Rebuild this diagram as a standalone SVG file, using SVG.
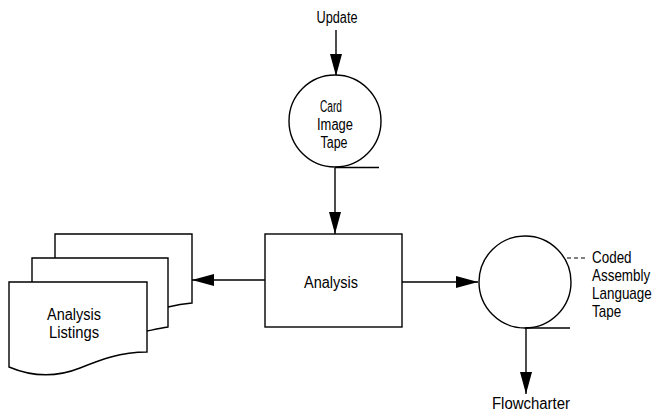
<svg xmlns="http://www.w3.org/2000/svg" width="654" height="417" viewBox="0 0 654 417">
<defs>
<style>
.s{fill:none;stroke:#000;stroke-width:1.4}
.f{fill:#fff;stroke:#000;stroke-width:1.4}
.t{font-family:"Liberation Sans",Arial,sans-serif;font-size:16px;fill:#000}
.d{stroke:#000;stroke-width:1.2;stroke-dasharray:4 3;fill:none}
</style>
<marker id="ah" viewBox="0 0 22 12" refX="22" refY="6" markerWidth="22" markerHeight="12" markerUnits="userSpaceOnUse" orient="auto">
<path d="M0,0 L22,6 L0,12 Z" fill="#000"/>
</marker>
</defs>
<rect width="654" height="417" fill="#fff"/>
<g id="connectors">
<line class="s" x1="336" y1="30" x2="336" y2="76" marker-end="url(#ah)"/>
<line class="s" x1="335" y1="168" x2="335" y2="234" marker-end="url(#ah)"/>
<line class="s" x1="265" y1="280" x2="192" y2="280" marker-end="url(#ah)"/>
<line class="s" x1="402" y1="282" x2="478" y2="282" marker-end="url(#ah)"/>
<line class="s" x1="526" y1="328" x2="526" y2="394" marker-end="url(#ah)"/>
</g>
<g id="update"><text class="t" x="337" y="23" text-anchor="middle" textLength="41" lengthAdjust="spacingAndGlyphs">Update</text></g>
<g id="card-image-tape">
<circle class="f" cx="335" cy="121" r="46"/>
<line class="s" x1="335" y1="167.5" x2="379" y2="167.5"/>
<text class="t" x="331" y="112" text-anchor="middle" textLength="22" lengthAdjust="spacingAndGlyphs">Card</text>
<text class="t" x="335" y="130" text-anchor="middle" textLength="36" lengthAdjust="spacingAndGlyphs">Image</text>
<text class="t" x="334" y="148" text-anchor="middle" textLength="27" lengthAdjust="spacingAndGlyphs">Tape</text>
</g>
<g id="analysis">
<rect class="f" x="265" y="234" width="137" height="93"/>
<text class="t" x="331" y="288" text-anchor="middle" textLength="54" lengthAdjust="spacingAndGlyphs">Analysis</text>
</g>
<g id="analysis-listings">
<path class="f" d="M55,307 L55,234 L192,234 L192,303 C180,304 172,306 168,307 Z"/>
<path class="f" d="M32,331 L32,258 L168,258 L168,327 C160,328 152,330 147,331 Z"/>
<path class="f" d="M9,367 L9,282 L147,282 L147,352 C120,352 100,360 80,368 C60,376 35,378 9,367 Z"/>
<text class="t" x="74" y="320" text-anchor="middle" textLength="54" lengthAdjust="spacingAndGlyphs">Analysis</text>
<text class="t" x="74" y="338" text-anchor="middle" textLength="50" lengthAdjust="spacingAndGlyphs">Listings</text>
</g>
<g id="coded-assembly-tape">
<circle class="f" cx="525" cy="282" r="46"/>
<line class="s" x1="525" y1="328" x2="570" y2="328"/>
<line class="d" x1="567" y1="258" x2="588" y2="258"/>
<g transform="translate(592,0) scale(0.84,1)">
<text class="t" x="0" y="263">Coded</text>
<text class="t" x="0" y="281">Assembly</text>
<text class="t" x="0" y="299">Language</text>
<text class="t" x="0" y="317">Tape</text>
</g>
</g>
<g id="flowcharter"><text class="t" x="531" y="409" text-anchor="middle" textLength="78" lengthAdjust="spacingAndGlyphs">Flowcharter</text></g>
</svg>
